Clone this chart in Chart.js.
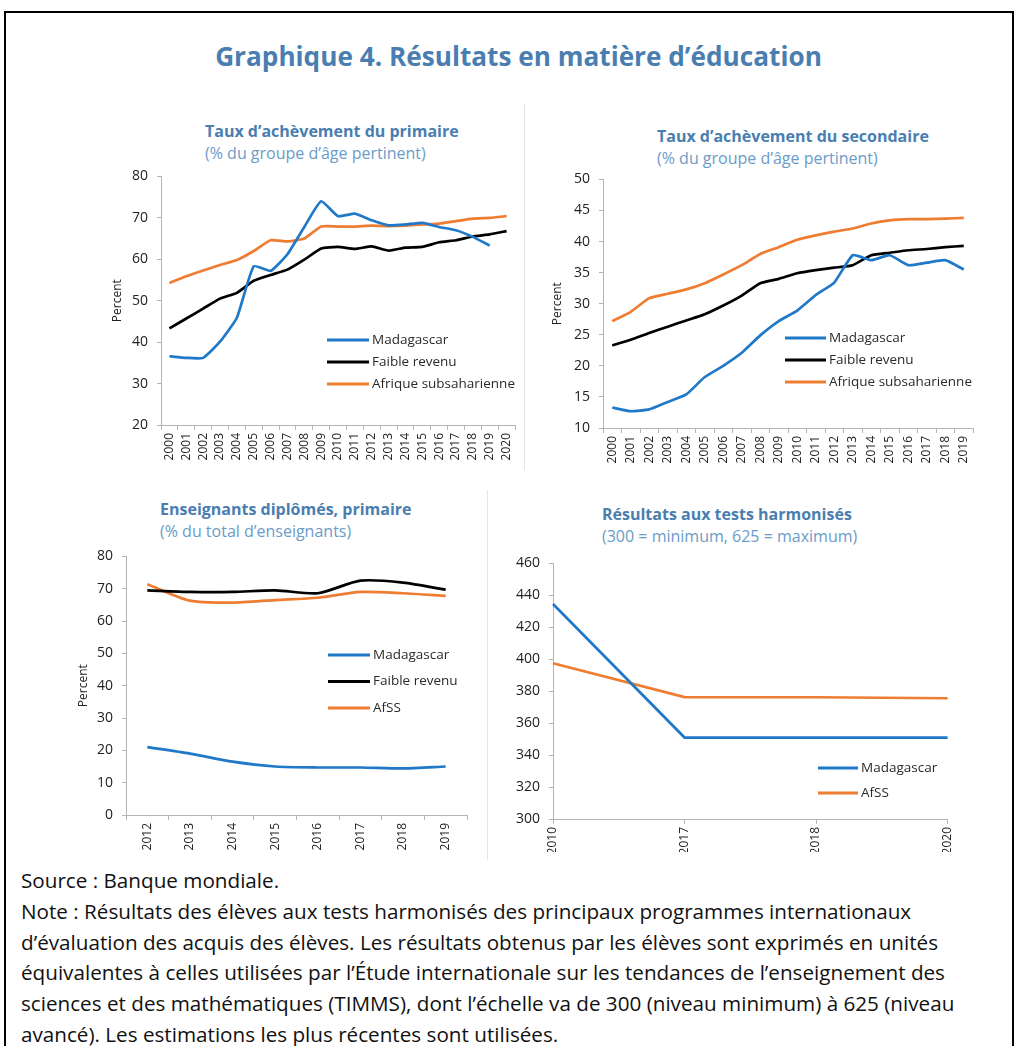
<!DOCTYPE html>
<html>
<head>
<meta charset="utf-8">
<script src="https://cdn.jsdelivr.net/npm/chart.js@4.4.1/dist/chart.umd.min.js"></script>
<style>
  body { margin: 0; background: #fff; }
  #page { position: relative; width: 1014px; height: 1046px; overflow: hidden; }
  .frame { position: absolute; left: 4px; top: 11px; width: 1006px; height: 1100px; border: 2px solid #000; }
  .sep { position: absolute; width: 1px; background: #e6e6e6; }
  .main { position: absolute; left: 0; width: 1037px; top: 38px; line-height: 32px; text-align: center;
          font: bold 26px "Open Sans", sans-serif; color: #4a7eb0; }
  .ttl { position: absolute; font: bold 16px "Open Sans", sans-serif; color: #4a7eb0; line-height: 22px; white-space: nowrap; }
  .ttl span { font-weight: normal; color: #6b9bc8; }
  canvas { position: absolute; }
  .note { position: absolute; left: 21px; top: 865px; font: 19px "Open Sans", sans-serif; line-height: 30.8px; color: #111; white-space: nowrap; }
</style>
</head>
<body>
<div id="page">
  <div class="frame"></div>
  <div class="sep" style="left:524px;top:104px;height:366px"></div>
  <div class="sep" style="left:487px;top:490px;height:370px"></div>
  <div class="main"><span id="mainTitle">Graphique 4. Résultats en matière d’éducation</span></div>

  <div class="ttl" style="left:205px;top:120px">Taux d’achèvement du primaire<br><span>(% du groupe d’âge pertinent)</span></div>
  <div class="ttl" style="left:657px;top:125px">Taux d’achèvement du secondaire<br><span>(% du groupe d’âge pertinent)</span></div>
  <div class="ttl" style="left:160px;top:498px">Enseignants diplômés, primaire<br><span>(% du total d’enseignants)</span></div>
  <div class="ttl" style="left:602px;top:503px">Résultats aux tests harmonisés<br><span>(300 = minimum, 625 = maximum)</span></div>

  <canvas id="c1" width="430" height="306" style="left:100px;top:159px"></canvas>
  <canvas id="c2" width="445" height="306" style="left:540px;top:162px"></canvas>
  <canvas id="c3" width="420" height="316" style="left:60px;top:539px"></canvas>
  <canvas id="c4" width="475" height="306" style="left:490px;top:546px"></canvas>

  <div class="note" id="note">
    Source : Banque mondiale.<br>
    <span id="noteLine">Note : Résultats des élèves aux tests harmonisés des principaux programmes internationaux</span><br>
    d’évaluation des acquis des élèves. Les résultats obtenus par les élèves sont exprimés en unités<br>
    équivalentes à celles utilisées par l’Étude internationale sur les tendances de l’enseignement des<br>
    sciences et des mathématiques (TIMMS), dont l’échelle va de 300 (niveau minimum) à 625 (niveau<br>
    avancé). Les estimations les plus récentes sont utilisées.
  </div>
</div>

<script>
  // Data
  const yearsPrim = ['2000', '2001', '2002', '2003', '2004', '2005', '2006', '2007', '2008', '2009', '2010',
                     '2011', '2012', '2013', '2014', '2015', '2016', '2017', '2018', '2019', '2020'];
  const primMadagascar = [36.6, 36.2, 36.2, 40.1, 45.9, 58.3, 57.2, 61.2, 67.8, 74.0, 70.4,
                          71.0, 69.4, 68.2, 68.4, 68.8, 67.8, 67.0, 65.4, 63.3, null];
  const primFaible = [43.3, 45.7, 48.1, 50.5, 51.9, 54.8, 56.2, 57.5, 59.9, 62.6, 63.0,
                      62.5, 63.1, 62.1, 62.8, 63.0, 64.1, 64.6, 65.5, 66.0, 66.8];
  const primAfss = [54.3, 55.9, 57.3, 58.6, 59.8, 62.0, 64.6, 64.3, 65.0, 67.9, 67.9,
                    67.9, 68.1, 68.0, 68.1, 68.4, 68.6, 69.2, 69.8, 70.0, 70.4];

  const yearsSec = ['2000', '2001', '2002', '2003', '2004', '2005', '2006', '2007', '2008', '2009',
                    '2010', '2011', '2012', '2013', '2014', '2015', '2016', '2017', '2018', '2019'];
  const secMadagascar = [13.3, 12.7, 13.0, 14.2, 15.4, 18.2, 20.0, 22.1, 24.9, 27.2,
                         28.9, 31.4, 33.4, 37.8, 37.0, 37.8, 36.2, 36.6, 37.0, 35.5];
  const secFaible = [23.3, 24.2, 25.3, 26.3, 27.3, 28.3, 29.7, 31.3, 33.3, 34.0,
                     34.9, 35.4, 35.8, 36.2, 37.8, 38.2, 38.6, 38.8, 39.1, 39.3];
  const secAfss = [27.2, 28.7, 30.9, 31.6, 32.3, 33.3, 34.7, 36.2, 38.0, 39.1,
                   40.3, 41.0, 41.6, 42.1, 42.9, 43.4, 43.6, 43.6, 43.7, 43.8];

  const yearsEns = ['2012', '2013', '2014', '2015', '2016', '2017', '2018', '2019'];
  const ensMadagascar = [21.0, 19.0, 16.5, 15.0, 14.7, 14.7, 14.4, 15.0];
  const ensFaible = [69.5, 69.0, 69.0, 69.5, 68.6, 72.5, 71.9, 69.7];
  const ensAfss = [71.4, 66.3, 65.7, 66.5, 67.2, 69.0, 68.6, 67.8];

  const yearsTests = ['2010', '2017', '2018', '2020'];
  const testsMadagascar = [434.6, 351, 351, 351];
  const testsAfss = [397.5, 376.3, 376.2, 375.6];

  const BLUE = '#1f78c8';
  const BLACK = '#000000';
  const ORANGE = '#ee7d31';
  const AXIS = '#b5b5b5';

  // stretch the texts to the widths of the original
  function fitWidth(el, target, box) {
    const fs = parseFloat(getComputedStyle(box).fontSize);
    box.style.fontSize = (fs * target / el.getBoundingClientRect().width) + 'px';
  }
  const mt = document.getElementById('mainTitle');
  fitWidth(mt, 607, mt.parentNode);
  fitWidth(document.getElementById('noteLine'), 891, document.getElementById('note'));

  // legend drawn inside the plot, like the original
  const insideLegend = {
    id: 'insideLegend',
    afterDraw(chart, args, o) {
      const ctx = chart.ctx;
      ctx.save();
      ctx.font = '13.5px "Open Sans"';
      ctx.textBaseline = 'middle';
      chart.data.datasets.forEach((ds, i) => {
        const y = o.y + i * o.gap;
        ctx.strokeStyle = ds.borderColor;
        ctx.lineWidth = 3;
        ctx.beginPath();
        ctx.moveTo(o.x, y);
        ctx.lineTo(o.x + o.len, y);
        ctx.stroke();
        ctx.fillStyle = '#2a2a2a';
        ctx.fillText(ds.label, o.x + o.len + 3, y);
      });
      ctx.restore();
    }
  };

  function line(label, data, color, tension) {
    return { label: label, data: data, borderColor: color, backgroundColor: color,
             borderWidth: 2.7, pointRadius: 0, fill: false, tension: tension, spanGaps: false };
  }

  function makeChart(id, labels, datasets, s) {
    return new Chart(document.getElementById(id), {
      type: 'line',
      data: { labels: labels, datasets: datasets },
      plugins: [insideLegend],
      options: {
        responsive: false,
        animation: false,
        layout: { padding: { left: 0, right: s.padRight, top: 4, bottom: 0 } },
        plugins: {
          legend: { display: false },
          tooltip: { enabled: false },
          insideLegend: s.legend
        },
        scales: {
          x: {
            offset: s.offset,
            grid: { drawOnChartArea: false, drawTicks: true, tickLength: 5, color: AXIS, offset: s.offset },
            border: { color: AXIS },
            ticks: { minRotation: 90, maxRotation: 90, autoSkip: false, padding: 3,
                     font: { family: 'Open Sans', size: 12 }, color: '#222' },
            afterFit: sc => { sc.height = s.xHeight; }
          },
          y: {
            min: s.min, max: s.max,
            grid: { drawOnChartArea: false, drawTicks: true, tickLength: 4, color: AXIS },
            border: { color: AXIS },
            ticks: { stepSize: s.step, padding: 9, font: { family: 'Open Sans', size: 14 }, color: '#222' },
            title: { display: s.yTitle, text: 'Percent', color: '#222',
                     font: { family: 'Open Sans', size: 12 }, padding: { top: s.titlePad, bottom: 0 } },
            afterFit: sc => { sc.width = s.yWidth; }
          }
        }
      }
    });
  }

  makeChart('c1', yearsPrim, [
    line('Madagascar', primMadagascar, BLUE, 0.15),
    line('Faible revenu', primFaible, BLACK, 0.15),
    line('Afrique subsaharienne', primAfss, ORANGE, 0.15)
  ], { padRight: 15, xHeight: 40, yWidth: 61, min: 20, max: 80, step: 10,
       offset: true, yTitle: true, titlePad: 10, legend: { x: 227, y: 181, gap: 22, len: 42 } });

  makeChart('c2', yearsSec, [
    line('Madagascar', secMadagascar, BLUE, 0.15),
    line('Faible revenu', secFaible, BLACK, 0.15),
    line('Afrique subsaharienne', secAfss, ORANGE, 0.15)
  ], { padRight: 12, xHeight: 40, yWidth: 63, min: 10, max: 50, step: 5,
       offset: true, yTitle: true, titlePad: 10, legend: { x: 245, y: 176, gap: 22, len: 41 } });

  makeChart('c3', yearsEns, [
    line('Madagascar', ensMadagascar, BLUE, 0.25),
    line('Faible revenu', ensFaible, BLACK, 0.25),
    line('AfSS', ensAfss, ORANGE, 0.25)
  ], { padRight: 13, xHeight: 40, yWidth: 66, min: 0, max: 80, step: 10,
       offset: true, yTitle: true, titlePad: 16, legend: { x: 268, y: 116, gap: 26.5, len: 42 } });

  makeChart('c4', yearsTests, [
    line('Madagascar', testsMadagascar, BLUE, 0),
    line('AfSS', testsAfss, ORANGE, 0)
  ], { padRight: 13, xHeight: 33, yWidth: 63, min: 300, max: 460, step: 20,
       offset: false, yTitle: false, titlePad: 0, legend: { x: 328, y: 222, gap: 25, len: 40 } });
</script>
</body>
</html>
